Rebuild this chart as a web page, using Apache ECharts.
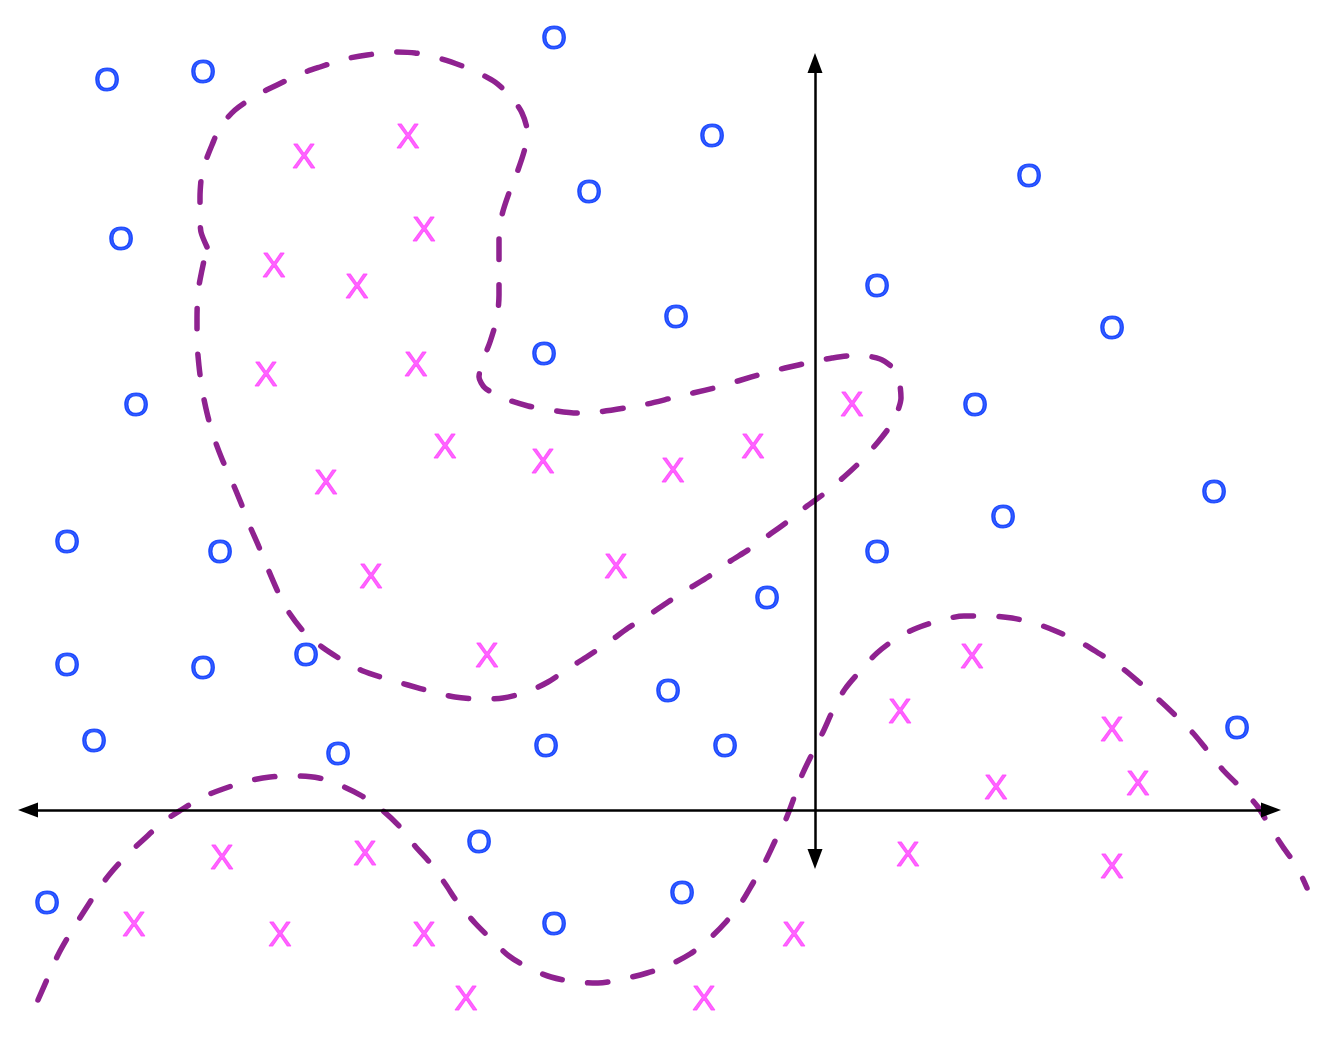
<!DOCTYPE html>
<html>
<head>
<meta charset="utf-8">
<script src="https://cdn.jsdelivr.net/npm/echarts@6/dist/echarts.min.js"></script>
<style>
  html, body { margin: 0; padding: 0; background: #ffffff; }
  #chart { width: 1344px; height: 1038px; }
</style>
</head>
<body>
<div id="chart"></div>
<script>
// Class "o" samples (x, y), origin at the axes crossing
var oPoints = [
  [-708, 730], [-612, 738], [-261, 772], [-103, 674], [-226, 618], [214, 634],
  [-694, 571], [62, 524], [-139, 493], [297, 482], [-271, 456], [-679, 405],
  [160, 405], [399, 318], [188, 293], [-748, 268], [-595, 258], [62, 258],
  [-48, 212], [-748, 145], [-612, 142], [-509, 155], [-147, 119], [-721, 69],
  [-477, 56], [-269, 64], [-90, 64], [422, 82], [-336, -32], [-768, -93],
  [-133, -83], [-261, -114]
];

// Class "x" samples
var xPoints = [
  [-511, 654], [-407, 674], [-391, 581], [-541, 545], [-458, 524], [-549, 436],
  [-399, 446], [37, 406], [-370, 364], [-272, 349], [-142, 340], [-62, 364],
  [-489, 328], [-444, 234], [-199, 244], [-328, 155], [157, 154], [85, 99],
  [297, 81], [181, 23], [323, 27], [-593, -47], [-450, -43], [93, -44],
  [297, -56], [-681, -114], [-535, -124], [-391, -124], [-21, -124],
  [-349, -188], [-111, -188]
];

// Marker glyphs
var oGlyph = 'O';
var xGlyph = 'X';

// Axis extents (arrow ends)
var xAxisEnds = [-787, 456];
var yAxisEnds = [-49, 747];

// Upper decision boundary (closed loop)
var boundaryLoop = [
  [-608, 563], [-614, 578], [-615, 595], [-615, 613], [-613, 638], [-609, 650],
  [-603, 665], [-595, 683], [-580, 700], [-558, 715], [-538, 725], [-515, 736],
  [-495, 743], [-470, 751], [-448, 755], [-422, 758], [-400, 757], [-373, 751],
  [-345, 741], [-320, 728], [-303, 712], [-293, 697], [-288, 680], [-290, 662],
  [-297, 640], [-306, 617], [-313, 595], [-316, 570], [-316, 540], [-316, 515],
  [-318, 492], [-325, 468], [-333, 447], [-336, 433], [-330, 422], [-312, 412],
  [-287, 404], [-265, 400], [-238, 397], [-217, 398], [-190, 402], [-168, 406],
  [-143, 412], [-122, 417], [-97, 423], [-77, 429], [-50, 437], [-30, 442],
  [-3, 448], [17, 452], [43, 455], [65, 451], [78, 442], [84, 430], [86, 412],
  [82, 397], [76, 385], [63, 368], [45, 348], [30, 334], [10, 317], [-8, 304],
  [-28, 288], [-46, 275], [-67, 260], [-86, 248], [-107, 233], [-125, 222],
  [-147, 208], [-166, 195], [-187, 182], [-206, 168], [-227, 154], [-246, 142],
  [-267, 128], [-288, 118], [-312, 112], [-335, 111], [-360, 113], [-382, 118],
  [-407, 125], [-428, 131], [-452, 139], [-473, 150], [-493, 163], [-511, 178],
  [-527, 199], [-537, 218], [-547, 241], [-556, 263], [-566, 286], [-574, 307],
  [-584, 331], [-593, 351], [-602, 375], [-608, 397], [-613, 421], [-616, 444],
  [-618, 470], [-618, 492], [-617, 518], [-613, 540], [-608, 563]
];

// Lower decision boundary (wave)
var boundaryWave = [
  [-777, -190], [-766, -165], [-757, -145], [-744, -122], [-732, -103], [-719, -83],
  [-706, -65], [-688, -45], [-672, -30], [-652, -12], [-634, 0], [-612, 13],
  [-592, 21], [-567, 29], [-545, 33], [-520, 34], [-496, 32], [-473, 24],
  [-453, 14], [-433, 0], [-415, -17], [-400, -36], [-384, -54], [-369, -75],
  [-357, -93], [-340, -113], [-324, -129], [-306, -146], [-286, -158], [-264, -167],
  [-239, -172], [-217, -173], [-192, -169], [-168, -163], [-148, -156], [-125, -144],
  [-107, -130], [-90, -113], [-74, -93], [-62, -73], [-50, -52], [-39, -29],
  [-29, -9], [-20, 15], [-13, 35], [-2, 58], [8, 78], [19, 102], [30, 121],
  [47, 141], [62, 157], [82, 172], [102, 182], [127, 190], [149, 194], [175, 194],
  [197, 192], [222, 186], [243, 178], [267, 167], [285, 156], [307, 142],
  [325, 127], [343, 111], [360, 95], [378, 77], [392, 60], [408, 40], [426, 22],
  [443, 3], [455, -17], [468, -37], [482, -57], [492, -78]
];

var chart = echarts.init(document.getElementById('chart'), null, { renderer: 'canvas' });

var fontFamily = '"Liberation Sans", Arial, Helvetica, sans-serif';
var blue = '#0033ff';
var magenta = '#ff40ff';
function curveStyle() {
  return {
    color: '#8f2290',
    width: 5.5,
    type: [20.5, 25.5],
    cap: 'round',
    join: 'round'
  };
}

var option = {
  backgroundColor: '#ffffff',
  animation: false,
  grid: { left: 28, right: 29, top: 63, bottom: 179, containLabel: false },
  xAxis: {
    type: 'value',
    min: -787,
    max: 500,
    axisLine: { show: false },
    axisTick: { show: false },
    axisLabel: { show: false },
    splitLine: { show: false }
  },
  yAxis: {
    type: 'value',
    min: -49,
    max: 747,
    axisLine: { show: false },
    axisTick: { show: false },
    axisLabel: { show: false },
    splitLine: { show: false }
  },
  series: [
    {
      name: 'axes',
      type: 'line',
      data: [],
      silent: true,
      markLine: {
        silent: true,
        animation: false,
        symbol: ['triangle', 'triangle'],
        symbolSize: [15, 20],
        label: { show: false },
        emphasis: { disabled: true },
        lineStyle: { color: '#000000', width: 2.5, type: 'solid' },
        data: [
          [{ coord: [xAxisEnds[0], 0] }, { coord: [xAxisEnds[1], 0] }],
          [{ coord: [0, yAxisEnds[0]] }, { coord: [0, yAxisEnds[1]] }]
        ]
      },
      z: 2
    },
    {
      name: 'boundary loop',
      type: 'line',
      data: boundaryLoop,
      showSymbol: false,
      symbol: 'none',
      smooth: 0.25,
      clip: false,
      lineStyle: curveStyle(),
      z: 3
    },
    {
      name: 'boundary wave',
      type: 'line',
      data: boundaryWave,
      showSymbol: false,
      symbol: 'none',
      smooth: 0.3,
      clip: false,
      lineStyle: curveStyle(),
      z: 3
    },
    {
      name: 'o',
      type: 'scatter',
      data: oPoints,
      symbol: 'circle',
      symbolSize: 1,
      clip: false,
      itemStyle: { color: 'rgba(0,0,0,0)' },
      label: {
        show: true,
        position: 'inside',
        offset: [0, 2],
        formatter: function () { return oGlyph; },
        color: blue,
        textBorderColor: blue,
        textBorderWidth: 1.2,
        fontSize: 33,
        fontFamily: fontFamily
      },
      z: 4
    },
    {
      name: 'x',
      type: 'scatter',
      data: xPoints,
      symbol: 'circle',
      symbolSize: 1,
      clip: false,
      itemStyle: { color: 'rgba(0,0,0,0)' },
      label: {
        show: true,
        position: 'inside',
        offset: [0, 2],
        formatter: function () { return xGlyph; },
        color: magenta,
        textBorderColor: magenta,
        textBorderWidth: 1.0,
        fontSize: 35,
        fontFamily: fontFamily
      },
      z: 4
    }
  ]
};

chart.setOption(option);
</script>
</body>
</html>
